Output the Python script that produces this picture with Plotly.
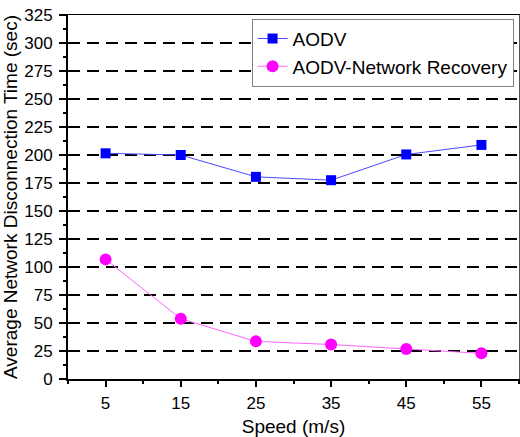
import plotly.graph_objects as go

speed = [5, 15, 25, 35, 45, 55]
aodv = [201.5, 200.0, 180.5, 177.5, 200.5, 209.0]
aodv_nr = [106.8, 53.8, 33.6, 30.8, 26.8, 22.9]
y_ticks = list(range(0, 326, 25))
grid_vals = list(range(25, 301, 25))
x_minor = list(range(0, 61, 10))

FONT = "Arial, Liberation Sans, sans-serif"

fig = go.Figure()
fig.add_trace(go.Scatter(x=[None], y=[None], xaxis="x2", yaxis="y2", showlegend=False, hoverinfo="skip"))
fig.add_trace(go.Scatter(
    x=speed, y=aodv, mode="lines+markers", name="AODV",
    line=dict(color="#4a4aff", width=1),
    marker=dict(symbol="square", size=10, color="#0000ff"),
))
fig.add_trace(go.Scatter(
    x=speed, y=aodv_nr, mode="lines+markers", name="AODV-Network Recovery",
    line=dict(color="#ff66ff", width=1),
    marker=dict(symbol="circle", size=12, color="#ff00ff"),
))

fig.update_layout(
    width=520, height=437,
    margin=dict(l=68, r=1, t=15, b=58),
    paper_bgcolor="white", plot_bgcolor="white",
    font=dict(family=FONT, color="black"),
    showlegend=True,
    legend=dict(
        x=0.407, y=0.99, xanchor="left", yanchor="top",
        bordercolor="#808080", borderwidth=1, bgcolor="white",
        font=dict(size=19, family=FONT), tracegroupgap=0, itemwidth=30,
    ),
    xaxis=dict(
        range=[0, 60], tickvals=speed, ticks="outside", ticklen=6, tickwidth=1.5,
        tickcolor="black", showgrid=False, zeroline=False,
        showline=True, linecolor="black", linewidth=2, mirror=False,
        tickfont=dict(size=17), ticklabelstandoff=2,
        minor=dict(tickvals=x_minor, ticks="outside", ticklen=3, tickcolor="black", tickwidth=1.5),
        title=dict(text="Speed (m/s)", font=dict(size=19), standoff=8),
    ),
    xaxis2=dict(
        overlaying="x", side="top", range=[0, 60], showticklabels=False,
        ticks="", showgrid=False, zeroline=False,
        showline=True, linecolor="black", linewidth=1,
    ),
    yaxis=dict(
        range=[0, 325], tickvals=y_ticks, ticks="outside", ticklen=7, tickwidth=1.5,
        tickcolor="black", showgrid=False, zeroline=False,
        showline=True, linecolor="black", linewidth=2,
        tickfont=dict(size=17), ticklabelstandoff=3,
        minor=dict(dtick=12.5, tick0=0, ticks="outside", ticklen=3, tickcolor="black", tickwidth=1.5),
        title=dict(text="Average Network Disconnection Time (sec)", font=dict(size=19), standoff=4),
    ),
    yaxis2=dict(
        overlaying="y", side="right", range=[0, 325], tickvals=grid_vals,
        showticklabels=False, ticks="", showgrid=True, gridcolor="black",
        gridwidth=2, griddash="12px,7px", zeroline=False,
        showline=True, linecolor="#555555", linewidth=1,
    ),
)

fig.write_html("out.html")
